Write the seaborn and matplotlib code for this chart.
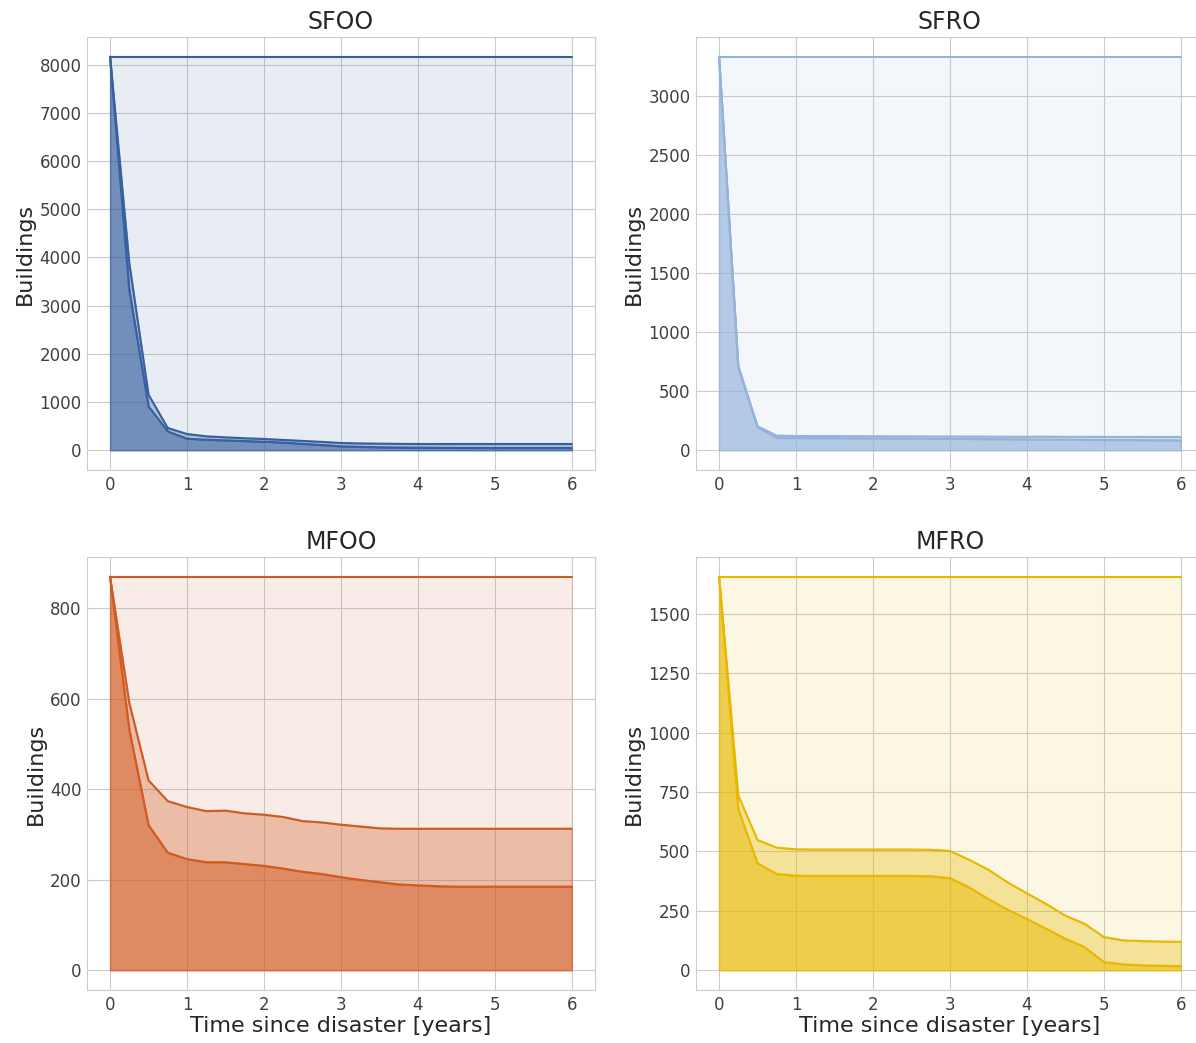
import matplotlib

matplotlib.use("Agg")

import matplotlib.pyplot as plt
import pandas as pd
import seaborn as sns

sns.set_style("whitegrid")
plt.rcParams["font.family"] = ["DejaVu Sans"]

# quarterly time steps, years after the event
years = [0, 0.25, 0.5, 0.75, 1, 1.25, 1.5, 1.75, 2, 2.25, 2.5, 2.75, 3,
         3.25, 3.5, 3.75, 4, 4.25, 4.5, 4.75, 5, 5.25, 5.5, 5.75, 6]

panels = ["SFOO", "SFRO", "MFOO", "MFRO"]
colors = ["#3660a0", "#94b3da", "#d05a22", "#e8b800"]

sfoo_total = 8165
sfoo_upper = [8165, 3880, 1153, 462, 338, 290, 269, 250, 235, 215, 195, 175, 152,
              143, 138, 134, 131, 131, 131, 131, 131, 131, 131, 131, 131]
sfoo_lower = [8165, 3327, 911, 393, 241, 220, 207, 192, 179, 160, 135, 110, 83,
              72, 63, 58, 55, 52, 50, 49, 48, 48, 48, 48, 48]

sfro_total = 3333
sfro_upper = [3333, 713, 203, 124, 121, 120, 120, 119, 119, 118, 118, 117, 117,
              116, 116, 115, 115, 115, 114, 114, 114, 113, 113, 113, 113]
sfro_lower = [3333, 700, 196, 105, 104, 103, 103, 102, 101, 100, 99, 98, 97,
              96, 95, 94, 92, 91, 90, 89, 88, 87, 86, 85, 84]

mfoo_total = 870
mfoo_upper = [870, 591, 420, 374, 361, 352, 353, 347, 344, 339, 330, 327, 322,
              318, 314, 313, 313, 313, 313, 313, 313, 313, 313, 313, 313]
mfoo_lower = [870, 532, 321, 260, 246, 239, 239, 235, 231, 225, 218, 213, 206,
              200, 195, 190, 188, 186, 185, 185, 185, 185, 185, 185, 185]

mfro_total = 1655
mfro_upper = [1655, 735, 548, 516, 509, 508, 508, 508, 508, 508, 508, 507, 502,
              465, 423, 370, 324, 279, 230, 196, 140, 126, 123, 121, 120]
mfro_lower = [1655, 677, 450, 405, 398, 397, 397, 397, 397, 397, 397, 396, 388,
              349, 300, 255, 216, 175, 133, 98, 35, 25, 21, 19, 18]

totals = [sfoo_total, sfro_total, mfoo_total, mfro_total]
uppers = [sfoo_upper, sfro_upper, mfoo_upper, mfro_upper]
lowers = [sfoo_lower, sfro_lower, mfoo_lower, mfro_lower]

fig = plt.figure(figsize=(11.96, 10.43), dpi=100)
w, h = 0.4247, 0.4151
positions = [(0.0727, 0.5494), (0.5819, 0.5494), (0.0727, 0.0508), (0.5819, 0.0508)]

for i, name in enumerate(panels):
    ax = fig.add_axes([positions[i][0], positions[i][1], w, h])
    color = colors[i]
    df = pd.DataFrame({
        "t": years,
        "total": [totals[i]] * len(years),
        "upper": uppers[i],
        "lower": lowers[i],
    })

    ax.fill_between(df["t"], 0, df["lower"], color=color, alpha=0.7, lw=1)
    ax.fill_between(df["t"], df["lower"], df["upper"], color=color, alpha=0.4, lw=1)
    ax.fill_between(df["t"], df["upper"], df["total"], color=color, alpha=0.11, lw=1)
    for col in ["total", "upper", "lower"]:
        sns.lineplot(data=df, x="t", y=col, ax=ax, color=color, lw=1.5)

    ax.set_title(name, fontsize=17, color=".15")
    ax.set_ylabel("Buildings", fontsize=16, color=".15", labelpad=3)
    if i >= 2:
        ax.set_xlabel("Time since disaster [years]", fontsize=16, color=".15",
                      labelpad=2)
    else:
        ax.set_xlabel("")
    ax.set_xticks(range(7))
    ax.tick_params(labelsize=12, colors=".25", pad=0.5)

fig.savefig("out.png", dpi=100)
plt.close(fig)
